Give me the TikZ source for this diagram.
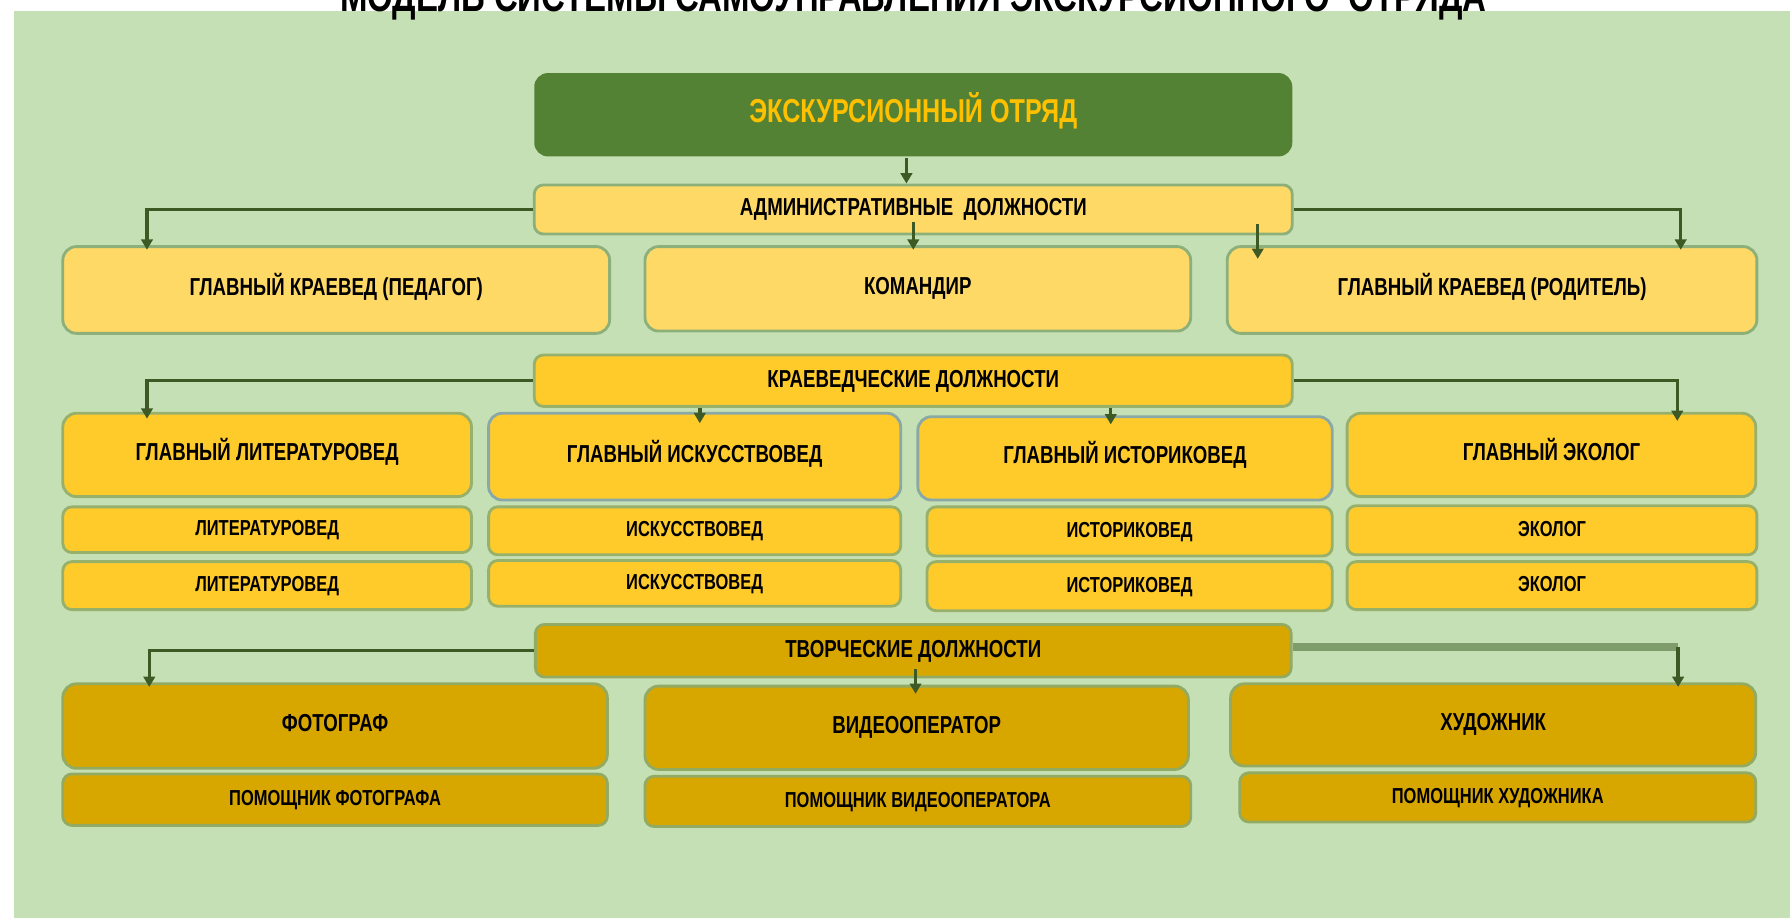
\documentclass[tikz,border=0pt]{standalone}
\usepackage{fontspec}
\newfontfamily\labfont[FakeStretch=0.76]{Liberation Sans}
\usetikzlibrary{arrows.meta}
\definecolor{bg}{HTML}{C5E0B4}
\definecolor{topfill}{HTML}{548235}
\definecolor{toptext}{HTML}{FFC000}
\definecolor{fillA}{HTML}{FFD966}
\definecolor{fillB}{HTML}{FFCB2B}
\definecolor{fillC}{HTML}{D7A700}
\definecolor{bordA}{HTML}{8DB07A}
\definecolor{bordB}{HTML}{97B06C}
\definecolor{bordC}{HTML}{93AA63}
\definecolor{bordG}{HTML}{8AA9A6}
\definecolor{lineG}{HTML}{3D5A24}
\definecolor{lineL}{HTML}{7F9D6B}
\begin{document}
\begin{tikzpicture}[x=1pt,y=-1pt,
  nb/.style={rounded corners=12pt, line width=2.5pt, inner sep=0pt, align=center,
    font=\labfont\bfseries\fontsize{21.5}{24}\selectfont, text height=15.4pt, text depth=6pt},
  sb/.style={nb, rounded corners=8pt, font=\labfont\bfseries\fontsize{19}{21}\selectfont, text height=13.6pt, text depth=3pt},
  lvA/.style={fill=fillA, draw=bordA},
  lvB/.style={fill=fillB, draw=bordB},
  lvC/.style={fill=fillC, draw=bordC},
  conn/.style={draw=lineG, line width=3pt, -{Triangle[width=10pt,length=9pt]}},
  thickline/.style={draw=lineL, line width=7pt}
]
\useasboundingbox (0,0) rectangle (1568,804.2);
\fill[white] (0,0) rectangle (1568,804.2);
\fill[bg] (12,9.6) rectangle (1568,804.2);
\node[anchor=base, inner sep=0pt, font=\labfont\bfseries\fontsize{38}{40}\selectfont] (title) at (800,10) {МОДЕЛЬ СИСТЕМЫ САМОУПРАВЛЕНИЯ ЭКСКУРСИОННОГО\ \ ОТРЯДА};

% top
\node[nb, fill=topfill, draw=none, text=toptext, font=\labfont\bfseries\fontsize{29}{32}\selectfont, text height=20.8pt, text depth=7pt, minimum width=664pt, minimum height=73pt] (top) at (800,100.5) {ЭКСКУРСИОННЫЙ ОТРЯД};

% administrative
\node[nb, lvA, rounded corners=8pt, text depth=4pt, minimum width=664pt, minimum height=43pt] (admin) at (800,183.5) {АДМИНИСТРАТИВНЫЕ\ \ ДОЛЖНОСТИ};
\node[nb, lvA, minimum width=479pt, minimum height=76pt] (ped) at (294.5,254) {ГЛАВНЫЙ КРАЕВЕД (ПЕДАГОГ)};
\node[nb, lvA, minimum width=478pt, minimum height=74pt] (kom) at (804,253) {КОМАНДИР};
\node[nb, lvA, minimum width=464pt, minimum height=76pt] (rod) at (1307,254) {ГЛАВНЫЙ КРАЕВЕД (РОДИТЕЛЬ)};

% kraeved
\node[nb, lvB, rounded corners=8pt, text depth=4pt, minimum width=664pt, minimum height=45pt] (krv) at (800,333.5) {КРАЕВЕДЧЕСКИЕ ДОЛЖНОСТИ};
\node[nb, lvB, minimum width=358pt, minimum height=73pt] (lit) at (234,398.5) {ГЛАВНЫЙ ЛИТЕРАТУРОВЕД};
\node[nb, lvB, draw=bordG, minimum width=361pt, minimum height=76pt] (isk) at (608.5,400) {ГЛАВНЫЙ ИСКУССТВОВЕД};
\node[nb, lvB, draw=bordG, minimum width=363pt, minimum height=73pt] (ist) at (985.5,401.5) {ГЛАВНЫЙ ИСТОРИКОВЕД};
\node[nb, lvB, minimum width=358pt, minimum height=73pt] (eco) at (1359,398.5) {ГЛАВНЫЙ ЭКОЛОГ};
\node[sb, lvB, minimum width=358pt, minimum height=40pt] (lit1) at (234,464) {ЛИТЕРАТУРОВЕД};
\node[sb, lvB, minimum width=358pt, minimum height=42pt] (lit2) at (234,513) {ЛИТЕРАТУРОВЕД};
\node[sb, lvB, minimum width=361pt, minimum height=42pt] (isk1) at (608.5,465) {ИСКУССТВОВЕД};
\node[sb, lvB, minimum width=361pt, minimum height=40pt] (isk2) at (608.5,511) {ИСКУССТВОВЕД};
\node[sb, lvB, minimum width=355pt, minimum height=43pt] (ist1) at (989.5,465.5) {ИСТОРИКОВЕД};
\node[sb, lvB, minimum width=355pt, minimum height=43pt] (ist2) at (989.5,513.5) {ИСТОРИКОВЕД};
\node[sb, lvB, minimum width=359pt, minimum height=43pt] (eco1) at (1359.5,464.5) {ЭКОЛОГ};
\node[sb, lvB, minimum width=359pt, minimum height=42pt] (eco2) at (1359.5,513) {ЭКОЛОГ};

% creative
\node[nb, lvC, rounded corners=8pt, text depth=4pt, minimum width=662pt, minimum height=46pt] (tvr) at (800,570) {ТВОРЧЕСКИЕ ДОЛЖНОСТИ};
\node[nb, lvC, minimum width=477pt, minimum height=74pt] (foto) at (293.5,636) {ФОТОГРАФ};
\node[sb, lvC, minimum width=477pt, minimum height=45pt] (foto2) at (293.5,700.5) {ПОМОЩНИК ФОТОГРАФА};
\node[nb, lvC, minimum width=476pt, minimum height=73pt] (vid) at (803,637.5) {ВИДЕООПЕРАТОР};
\node[sb, lvC, minimum width=478pt, minimum height=44pt] (vid2) at (804,702) {ПОМОЩНИК ВИДЕООПЕРАТОРА};
\node[nb, lvC, minimum width=460pt, minimum height=72pt] (hud) at (1308,635) {ХУДОЖНИК};
\node[sb, lvC, minimum width=452pt, minimum height=43pt] (hud2) at (1312,698.5) {ПОМОЩНИК ХУДОЖНИКА};

% connectors
\draw[conn] ([xshift=-6pt]top.south) -- ([xshift=-6pt]admin.north);
\draw[conn] (admin.west) -| ([xshift=75pt,yshift=-4pt]ped.north west);
\draw[conn] ([yshift=12pt]admin.south) -- ([yshift=-4pt]admin.south |- kom.north);
\draw[conn] ([xshift=28pt,yshift=10pt]rod.north west |- admin.south) -- ([xshift=28pt,yshift=-12pt]rod.north west);
\draw[conn] (admin.east) -| ([xshift=-68pt,yshift=-4pt]rod.north east);

\draw[conn] (krv.west) -| ([xshift=75pt,yshift=-6pt]lit.north west);
\draw[conn] ([xshift=4.5pt]isk.north |- krv.south) -- ([xshift=4.5pt,yshift=-10pt]isk.north);
\draw[conn] ([xshift=-12.5pt]ist.north |- krv.south) -- ([xshift=-12.5pt,yshift=-8pt]ist.north);
\draw[conn] (krv.east) -| ([xshift=-70pt,yshift=-8pt]eco.north east);

\draw[conn] (tvr.west) -| ([xshift=77pt,yshift=-4pt]foto.north west);
\draw[conn] ([xshift=-1pt,yshift=8pt]vid.north |- tvr.south) -- ([xshift=-1pt,yshift=-8pt]vid.north);
\coordinate (tc) at (1470,567);
\draw[thickline] (tc -| tvr.east) -- (tc);
\draw[conn] (tc) -- ([yshift=-4pt]tc |- hud.north);
\end{tikzpicture}
\end{document}
